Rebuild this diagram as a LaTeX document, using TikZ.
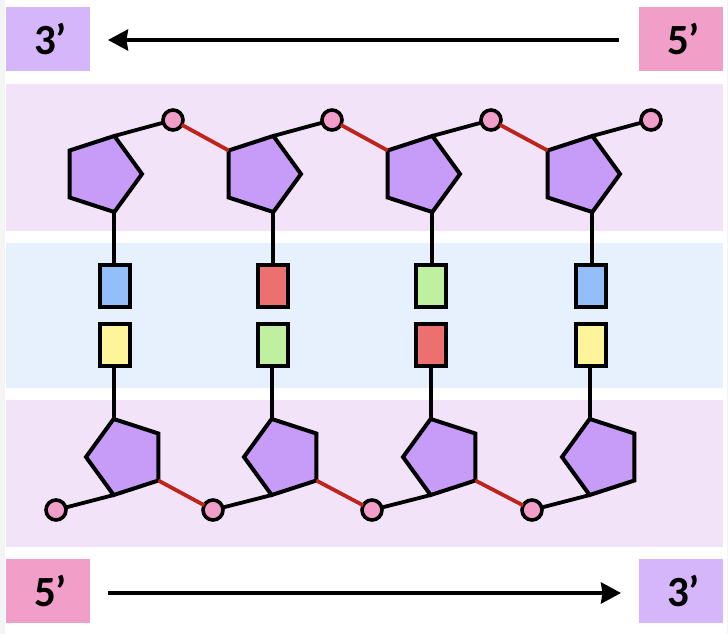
\documentclass[tikz,border=0pt]{standalone}
\usepackage{fontspec}
\setmainfont{Carlito}
\usetikzlibrary{arrows.meta}
\usetikzlibrary{shapes.geometric}
\definecolor{lilac}{RGB}{198, 156, 248}
\definecolor{lilacbox}{RGB}{214, 182, 250}
\definecolor{rose}{RGB}{241, 158, 200}
\definecolor{strandband}{RGB}{242, 227, 249}
\definecolor{pairband}{RGB}{231, 241, 254}
\definecolor{edgegray}{RGB}{243, 244, 246}
\definecolor{bondred}{RGB}{190, 35, 28}
\definecolor{baseblue}{RGB}{147, 190, 250}
\definecolor{basered}{RGB}{236, 112, 110}
\definecolor{basegreen}{RGB}{190, 240, 160}
\definecolor{baseyellow}{RGB}{254, 245, 155}
\tikzset{
    sugar/.style={draw=black, fill=lilac, line width=4pt, regular polygon, regular polygon sides=5,
                  minimum size=80pt, inner sep=0pt, outer sep=0pt, miter limit=10},
    sugartop/.style={sugar, shape border rotate=-90},
    sugarbot/.style={sugar, shape border rotate=90},
    phos/.style={draw=black, fill=rose, line width=3.6pt, circle, minimum size=20pt, inner sep=0pt, outer sep=0pt},
    base/.style={draw=black, line width=3.8pt, rectangle, minimum width=30pt, minimum height=42pt, inner sep=0pt, outer sep=0pt},
    endbox/.style={rectangle, minimum width=84pt, minimum height=64pt, inner sep=0pt,
                   font=\fontsize{43}{45}\selectfont\bfseries, execute at begin node={\hspace{5pt}}},
    stick/.style={draw=black, line width=3.8pt},
    bond/.style={draw=bondred, line width=3.8pt},
    dirarrow/.style={draw=black, line width=3.6pt, -{Stealth[length=20pt, width=21pt, inset=1.5pt]}}
}
\begin{document}
\begin{tikzpicture}[x=1pt, y=-1pt]
    \useasboundingbox (0,0) rectangle (728,634);
    % backdrop
    \fill[edgegray]    (0,0)     rectangle (5,634);
    \fill[edgegray]    (727,0)   rectangle (728,634);
    \fill[strandband]  (6,84)    rectangle (722.5,231);
    \fill[pairband]    (6,243)   rectangle (722.5,388);
    \fill[strandband]  (6,400)   rectangle (722.5,546.5);

    % end labels
    \node[endbox, fill=lilacbox] (topleft)  at (48,39)   {3’};
    \node[endbox, fill=rose]     (topright) at (681,39)  {5’};
    \node[endbox, fill=rose]     (botleft)  at (48,591)  {5’};
    \node[endbox, fill=lilacbox] (botright) at (681,591) {3’};
    \draw[dirarrow] (topright.west) ++(-20,1) coordinate (topstart) -- (108,40) coordinate (topend);
    \draw[dirarrow] (botleft.east) ++(18,2) coordinate (botstart) -- (621,593) coordinate (botend);

    % upper strand
    \node[sugartop] (s1) at (102,174) {};
    \node[sugartop] (s2) at (261,174) {};
    \node[sugartop] (s3) at (420,174) {};
    \node[sugartop] (s4) at (580,174) {};
    \node[phos] (p1) at (173,120) {};
    \node[phos] (p2) at (332,120) {};
    \node[phos] (p3) at (491,120) {};
    \node[phos] (p4) at (651,120) {};

    % lower strand
    \node[sugarbot] (s5) at (126,457) {};
    \node[sugarbot] (s6) at (284,457) {};
    \node[sugarbot] (s7) at (443,457) {};
    \node[sugarbot] (s8) at (602,457) {};
    \node[phos] (p5) at (56,510)  {};
    \node[phos] (p6) at (213,510) {};
    \node[phos] (p7) at (372,510) {};
    \node[phos] (p8) at (532,510) {};

    % bases
    \node[base, fill=baseblue]   (b1) at (115,286) {};
    \node[base, fill=baseyellow] (b5) at (115,345) {};
    \node[base, fill=basered]    (b2) at (273,286) {};
    \node[base, fill=basegreen]  (b6) at (273,345) {};
    \node[base, fill=basegreen]  (b3) at (431,286) {};
    \node[base, fill=basered]    (b7) at (431,345) {};
    \node[base, fill=baseblue]   (b4) at (591,286) {};
    \node[base, fill=baseyellow] (b8) at (591,345) {};

    % connectors
    \draw[stick] (s1.corner 2) -- (p1);
    \draw[stick] (s2.corner 2) -- (p2);
    \draw[stick] (s3.corner 2) -- (p3);
    \draw[stick] (s4.corner 2) -- (p4);
    \draw[bond]  (p1) -- (s2.corner 3);
    \draw[bond]  (p2) -- (s3.corner 3);
    \draw[bond]  (p3) -- (s4.corner 3);
    \draw[stick] (s5.corner 2) -- (p5);
    \draw[stick] (s6.corner 2) -- (p6);
    \draw[stick] (s7.corner 2) -- (p7);
    \draw[stick] (s8.corner 2) -- (p8);
    \draw[bond]  (s5.corner 3) -- (p6);
    \draw[bond]  (s6.corner 3) -- (p7);
    \draw[bond]  (s7.corner 3) -- (p8);
    \draw[stick] (s1.corner 5) -- (s1.corner 5 |- b1.north);
    \draw[stick] (s2.corner 5) -- (s2.corner 5 |- b2.north);
    \draw[stick] (s3.corner 5) -- (s3.corner 5 |- b3.north);
    \draw[stick] (s4.corner 5) -- (s4.corner 5 |- b4.north);
    \draw[stick] (s5.corner 5) -- (s5.corner 5 |- b5.south);
    \draw[stick] (s6.corner 5) -- (s6.corner 5 |- b6.south);
    \draw[stick] (s7.corner 5) -- (s7.corner 5 |- b7.south);
    \draw[stick] (s8.corner 5) -- (s8.corner 5 |- b8.south);
\end{tikzpicture}
\end{document}
